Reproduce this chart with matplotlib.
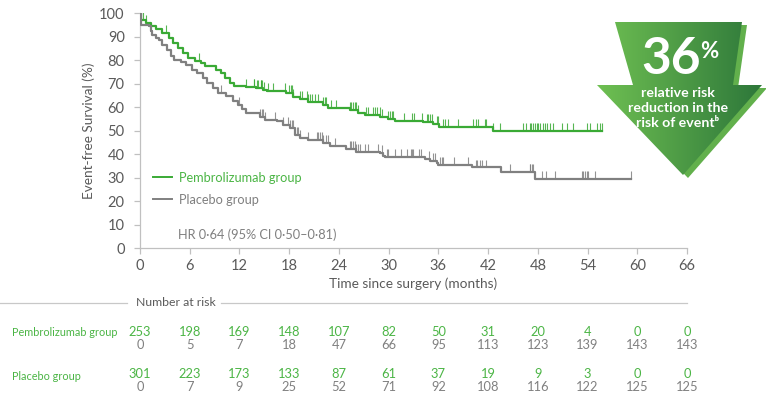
import numpy as np
import matplotlib
matplotlib.use('Agg')
import matplotlib.pyplot as plt
from matplotlib.patches import Polygon
from matplotlib.colors import LinearSegmentedColormap
from matplotlib.transforms import blended_transform_factory

plt.rcParams['font.family'] = ['Lato', 'DejaVu Sans']

# Kaplan-Meier steps (months, % event-free)
pembro_t = [0, 0.1, 0.7, 1.3, 1.9, 2.7, 3.5, 4.0, 4.6, 5.2, 5.8, 6.6, 7.3, 7.9, 9.2, 9.8,
            10.2, 10.8, 11.4, 12.8, 14.0, 14.8, 15.3, 17.6, 18.5, 19.3, 20.3, 22.1, 22.7,
            25.3, 26.3, 27.1, 29.0, 29.9, 30.8, 34.2, 35.4, 36.1, 42.6]
pembro_s = [100, 97.3, 95.9, 94.5, 93.5, 91.6, 89.5, 87.4, 85.2, 83.1, 81.0, 79.8, 78.9, 77.4,
            76.0, 74.6, 72.5, 70.3, 68.9, 68.5, 68.2, 67.5, 67.1, 66.0, 64.5, 63.4, 62.4, 61.0,
            59.6, 58.9, 57.7, 56.7, 55.7, 55.0, 54.2, 53.5, 52.8, 51.5, 50.0]
pembro_end = 55.7

placebo_t = [0, 0.1, 1.1, 1.3, 1.5, 1.9, 2.3, 2.7, 3.3, 3.7, 4.1, 4.9, 5.5, 6.3, 6.9, 7.6,
             8.1, 8.8, 9.4, 10.4, 11.2, 11.8, 12.3, 12.8, 14.5, 15.1, 16.5, 17.3, 18.1, 18.7,
             19.3, 20.3, 22.1, 22.9, 24.9, 26.1, 29.0, 29.3, 29.6, 34.4, 35.0, 35.8, 36.0,
             40.1, 43.5, 47.7]
placebo_s = [100, 95.1, 94.5, 92.6, 90.9, 89.5, 88.8, 86.6, 84.5, 81.7, 80.3, 79.3, 77.9,
             76.0, 74.6, 72.5, 70.3, 68.2, 66.1, 64.7, 62.8, 61.1, 59.3, 57.7, 56.0, 54.6,
             53.9, 52.5, 51.1, 48.2, 46.8, 46.1, 44.7, 43.5, 42.1, 41.1, 40.4, 39.4, 38.6,
             38.0, 37.1, 36.2, 35.2, 34.3, 32.2, 29.4]
placebo_end = 59.2

# censoring marks (months)
pembro_cens = [0.32, 0.73, 3.1, 7.16, 12.8, 13.75, 13.8, 14.07, 14.2, 14.56, 14.6, 14.68, 15.0,
               15.48, 16.1, 17.5, 18.0, 18.2, 18.3, 18.5, 19.3, 19.5, 20.1, 20.3, 20.5, 20.7,
               21.1, 21.5, 22.1, 22.3, 22.5, 23.1, 23.6, 25.3, 25.5, 25.7, 25.9, 26.1, 26.3,
               27.3, 27.5, 28.1, 28.3, 28.55, 28.95, 29.15, 29.95, 30.16, 30.36, 30.56, 31.8,
               32.8, 33.0, 34.0, 34.6, 34.8, 35.0, 35.2, 35.8, 36.0, 36.6, 36.8, 37.2, 38.4,
               40.2, 40.6, 40.8, 41.6, 41.8, 42.6, 43.4, 46.2, 46.6, 47.0, 47.2, 47.45, 47.65,
               47.85, 48.05, 48.25, 48.65, 48.85, 49.05, 49.45, 49.85, 50.9, 51.5, 52.3, 53.9,
               54.3, 55.1, 55.5, 55.7]
placebo_cens = [9.77, 12.0, 14.5, 14.7, 14.9, 15.1, 16.3, 17.3, 17.9, 18.1, 18.3, 18.5, 18.9,
                19.1, 19.3, 20.3, 21.3, 21.5, 21.7, 21.9, 22.1, 22.5, 22.7, 23.5, 25.3, 25.5,
                25.7, 25.9, 26.1, 26.3, 26.5, 27.1, 27.5, 28.75, 29.15, 29.75, 29.95, 30.76,
                31.44, 32.17, 32.65, 32.81, 32.97, 33.7, 33.86, 34.9, 35.4, 35.6, 36.2, 36.4,
                36.5, 37.9, 39.6, 40.5, 40.7, 41.0, 41.3, 41.8, 44.7, 47.0, 47.1, 47.3, 47.4,
                48.45, 49.0, 50.1, 53.3, 53.5, 53.7, 53.9, 54.1, 54.9, 59.2]

risk_months = [0, 6, 12, 18, 24, 30, 36, 42, 48, 54, 60, 66]
pembro_at_risk = [253, 198, 169, 148, 107, 82, 50, 31, 20, 4, 0, 0]
pembro_censored = [0, 5, 7, 18, 47, 66, 95, 113, 123, 139, 143, 143]
placebo_at_risk = [301, 223, 173, 133, 87, 61, 37, 19, 9, 3, 0, 0]
placebo_censored = [0, 7, 9, 25, 52, 71, 92, 108, 116, 122, 125, 125]

GREEN = '#3aaa35'
GREEN_TXT = '#4bb545'
GRAY = '#808080'
GRAY_TXT = '#5a5a5a'
AXIS = '#c0c0c0'

W, H = 766, 398
fig = plt.figure(figsize=(W / 100, H / 100), dpi=100)

# main KM axes
ax = fig.add_axes([140 / W, 1 - 248 / H, 547 / W, (248 - 13.3) / H])
ax.patch.set_alpha(0)


def km(ax, t, s, end, cens, color):
    tt = np.append(t, end)
    ss = np.append(s, s[-1])
    ax.plot(tt, ss, drawstyle='steps-post', color=color, lw=1.6, zorder=3)
    idx = np.searchsorted(t, cens, side='right') - 1
    cs = np.asarray(s)[idx]
    ax.vlines(cens, cs, cs + 3.4, color=color, lw=0.8, alpha=0.85, zorder=3)


km(ax, pembro_t, pembro_s, pembro_end, pembro_cens, GREEN)
km(ax, placebo_t, placebo_s, placebo_end, placebo_cens, GRAY)

ax.set_xlim(0, 66)
ax.set_ylim(0, 100)
ax.set_xticks(risk_months)
ax.set_yticks(range(0, 101, 10))
for side in ['top', 'right']:
    ax.spines[side].set_visible(False)
for side in ['left', 'bottom']:
    ax.spines[side].set_color(AXIS)
    ax.spines[side].set_linewidth(0.9)
ax.tick_params(axis='both', colors=AXIS, labelcolor=GRAY_TXT, labelsize=10.5,
               length=4, width=0.9)
ax.tick_params(axis='y', pad=7)
ax.tick_params(axis='x', pad=4)
ax.set_ylabel('Event-free Survival (%)', fontsize=9.8, color=GRAY_TXT, labelpad=3)
ax.set_xlabel('Time since surgery (months)', fontsize=9.8, color=GRAY_TXT, labelpad=3)

# legend
h1, = ax.plot([], [], color=GREEN, lw=1.4)
h2, = ax.plot([], [], color=GRAY, lw=1.4)
leg = ax.legend([h1, h2], ['Pembrolizumab group', 'Placebo group'], loc='upper left',
                bbox_to_anchor=(0.024, 0.325), frameon=False, fontsize=9.2,
                handlelength=1.45, handletextpad=0.55, labelspacing=0.8,
                borderpad=0, borderaxespad=0)
leg.get_texts()[0].set_color(GREEN_TXT)
leg.get_texts()[1].set_color(GRAY)
ax.text(4.6, 5.7, 'HR 0·64 (95% CI 0·50–0·81)', fontsize=9.2, color=GRAY,
        va='center', ha='left')

# number at risk table
tr = blended_transform_factory(ax.transData, fig.transFigure)


def fy(p):
    return 1 - p / H


rows = [(pembro_at_risk, 331.5, GREEN_TXT), (pembro_censored, 345, GRAY),
        (placebo_at_risk, 373.5, GREEN_TXT), (placebo_censored, 387, GRAY)]
for vals, yp, col in rows:
    for m, v in zip(risk_months, vals):
        ax.text(m, fy(yp), str(v), transform=tr, ha='center', va='center',
                fontsize=9.3, color=col, clip_on=False)

fig.text(12 / W, fy(333), 'Pembrolizumab group', fontsize=7.8, color=GREEN_TXT,
         va='center', ha='left')
fig.text(12 / W, fy(376), 'Placebo group', fontsize=7.8, color=GREEN_TXT,
         va='center', ha='left')

# overlay for decorations (pixel coords)
ov = fig.add_axes([0, 0, 1, 1])
ov.set_xlim(0, W)
ov.set_ylim(H, 0)
ov.axis('off')

ov.plot([0, 127], [303, 303], color='#c8c8c8', lw=0.9)
ov.plot([221, 687], [303, 303], color='#c8c8c8', lw=0.9)
ov.text(176, 303, 'Number at risk', fontsize=8.8, color=GRAY_TXT, ha='center', va='center')

arrow = [(615, 22), (742, 22), (733, 85), (762, 85), (683, 175), (597, 85), (633, 85)]
shadow = Polygon([(x + 5, y + 3) for x, y in arrow], closed=True, fc='#62b04c', ec='none')
ov.add_patch(shadow)
body = Polygon(arrow, closed=True, fc='none', ec='none')
ov.add_patch(body)
cmap = LinearSegmentedColormap.from_list('arr', ['#6fc052', '#2d773a'])
grad = np.linspace(0, 1, 256).reshape(1, -1)
im = ov.imshow(grad, extent=[597, 762, 175, 22], cmap=cmap, aspect='auto', zorder=2)
im.set_clip_path(body)
ov.set_xlim(0, W)
ov.set_ylim(H, 0)

ov.text(671, 59, '36', fontsize=37, fontweight='bold', color='white', ha='center',
        va='center', zorder=4)
ov.text(709, 51, '%', fontsize=16, fontweight='bold', color='white', ha='center',
        va='center', zorder=4)
for yp, s in [(93, 'relative risk'), (108, 'reduction in the'), (123, 'risk of eventᵇ')]:
    ov.text(678, yp, s, fontsize=10.2, fontweight='bold', color='white', ha='center',
            va='center', zorder=4)

fig.savefig('out.png', dpi=100)
